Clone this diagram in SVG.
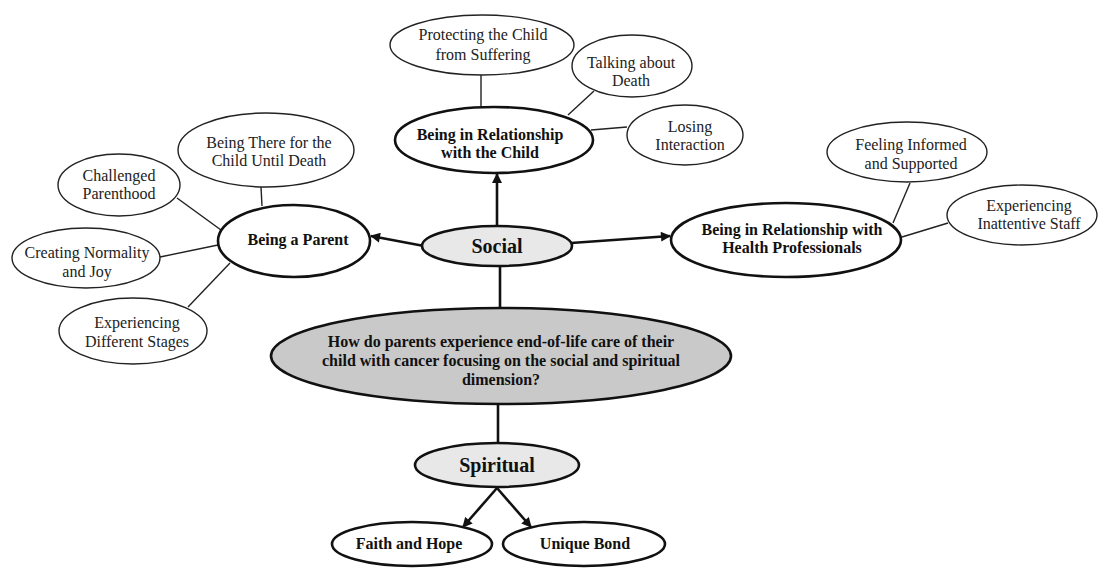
<svg xmlns="http://www.w3.org/2000/svg" width="1098" height="569" viewBox="0 0 1098 569">
<style>
.sub{fill:#fff;stroke:#222;stroke-width:1.4}
.main{fill:#fff;stroke:#111;stroke-width:2.6}
.grey{fill:#e8e8e8;stroke:#111;stroke-width:2.6}
.dark{fill:#c9c9c9;stroke:#111;stroke-width:2.6}
.t{font-family:"Liberation Serif","Times New Roman",serif;font-size:16px;fill:#222;text-anchor:middle}
.b{font-family:"Liberation Serif","Times New Roman",serif;font-size:16px;font-weight:bold;fill:#111;text-anchor:middle}
.big{font-family:"Liberation Serif","Times New Roman",serif;font-size:20px;font-weight:bold;fill:#111;text-anchor:middle}
.thin{stroke:#222;stroke-width:1.4;fill:none}
.thick{stroke:#111;stroke-width:2.6;fill:none}
.arr{stroke:#111;stroke-width:2.6;fill:none;marker-end:url(#ah)}
</style>
<defs>
<marker id="ah" viewBox="0 0 10 10" refX="9" refY="5" markerWidth="11" markerHeight="10" markerUnits="userSpaceOnUse" orient="auto">
<path d="M0,0 L10,5 L0,10 z" fill="#111"/>
</marker>
</defs>
<rect width="1098" height="569" fill="#fff"/>
<g id="connectors">
<line class="thin" x1="481" y1="75" x2="481" y2="107"/>
<line class="thin" x1="568" y1="115" x2="594" y2="91"/>
<line class="thin" x1="591" y1="130" x2="627" y2="127"/>
<line class="thin" x1="261" y1="187" x2="262" y2="206"/>
<line class="thin" x1="177" y1="198" x2="221" y2="230"/>
<line class="thin" x1="160" y1="257" x2="218" y2="245"/>
<line class="thin" x1="188" y1="307" x2="230" y2="263"/>
<line class="thin" x1="910" y1="183" x2="893" y2="223"/>
<line class="thin" x1="902" y1="237" x2="948" y2="223"/>
<line class="arr" x1="497" y1="226" x2="497" y2="174"/>
<line class="arr" x1="424" y1="246" x2="371" y2="236"/>
<line class="arr" x1="571" y1="243" x2="670" y2="236"/>
<line class="thick" x1="500" y1="266" x2="500" y2="307"/>
<line class="thick" x1="498" y1="403" x2="498" y2="443"/>
<line class="arr" x1="497" y1="488" x2="463" y2="527"/>
<line class="arr" x1="497" y1="488" x2="531" y2="527"/>
</g>
<g id="protecting">
<ellipse class="sub" cx="482" cy="45" rx="92" ry="30"/>
<text class="t" x="483" y="40">Protecting the Child</text>
<text class="t" x="483" y="60">from Suffering</text>
</g>
<g id="talking">
<ellipse class="sub" cx="632" cy="66" rx="60" ry="31"/>
<text class="t" x="631" y="68">Talking about</text>
<text class="t" x="631" y="86">Death</text>
</g>
<g id="losing">
<ellipse class="sub" cx="685" cy="135" rx="58" ry="30"/>
<text class="t" x="690" y="132">Losing</text>
<text class="t" x="690" y="150">Interaction</text>
</g>
<g id="relChild">
<ellipse class="main" cx="494" cy="140" rx="99" ry="33"/>
<text class="b" x="490" y="140">Being in Relationship</text>
<text class="b" x="490" y="158">with the Child</text>
</g>
<g id="beingThere">
<ellipse class="sub" cx="266" cy="150" rx="88" ry="37"/>
<text class="t" x="269" y="148">Being There for the</text>
<text class="t" x="269" y="166">Child Until Death</text>
</g>
<g id="challenged">
<ellipse class="sub" cx="119" cy="185" rx="61" ry="31"/>
<text class="t" x="119" y="181">Challenged</text>
<text class="t" x="119" y="199">Parenthood</text>
</g>
<g id="creating">
<ellipse class="sub" cx="86" cy="258" rx="74" ry="30"/>
<text class="t" x="87" y="258">Creating Normality</text>
<text class="t" x="87" y="277">and Joy</text>
</g>
<g id="stages">
<ellipse class="sub" cx="133" cy="331" rx="74" ry="33"/>
<text class="t" x="137" y="328">Experiencing</text>
<text class="t" x="137" y="347">Different Stages</text>
</g>
<g id="parent">
<ellipse class="main" cx="294" cy="241" rx="76" ry="36"/>
<text class="b" x="298" y="245">Being a Parent</text>
</g>
<g id="informed">
<ellipse class="sub" cx="907" cy="152" rx="80" ry="30"/>
<text class="t" x="911" y="150">Feeling Informed</text>
<text class="t" x="911" y="169">and Supported</text>
</g>
<g id="inattentive">
<ellipse class="sub" cx="1022" cy="215" rx="75" ry="30"/>
<text class="t" x="1029" y="211">Experiencing</text>
<text class="t" x="1029" y="229">Inattentive Staff</text>
</g>
<g id="relHealth">
<ellipse class="main" cx="786" cy="240" rx="115" ry="37"/>
<text class="b" x="792" y="235">Being in Relationship with</text>
<text class="b" x="792" y="253">Health Professionals</text>
</g>
<g id="social">
<ellipse class="grey" cx="497" cy="246" rx="75" ry="20"/>
<text class="big" x="497" y="253">Social</text>
</g>
<g id="question">
<ellipse class="dark" cx="501" cy="356" rx="230" ry="48"/>
<text class="b" x="501" y="347">How do parents experience end-of-life care of their</text>
<text class="b" x="501" y="366">child with cancer focusing on the social and spiritual</text>
<text class="b" x="501" y="385">dimension?</text>
</g>
<g id="spiritual">
<ellipse class="grey" cx="497" cy="465" rx="82" ry="22"/>
<text class="big" x="497" y="472">Spiritual</text>
</g>
<g id="faith">
<ellipse class="main" cx="412" cy="544" rx="80" ry="22"/>
<text class="b" x="409" y="549">Faith and Hope</text>
</g>
<g id="bond">
<ellipse class="main" cx="584" cy="544" rx="81" ry="22"/>
<text class="b" x="585" y="549">Unique Bond</text>
</g>
</svg>
